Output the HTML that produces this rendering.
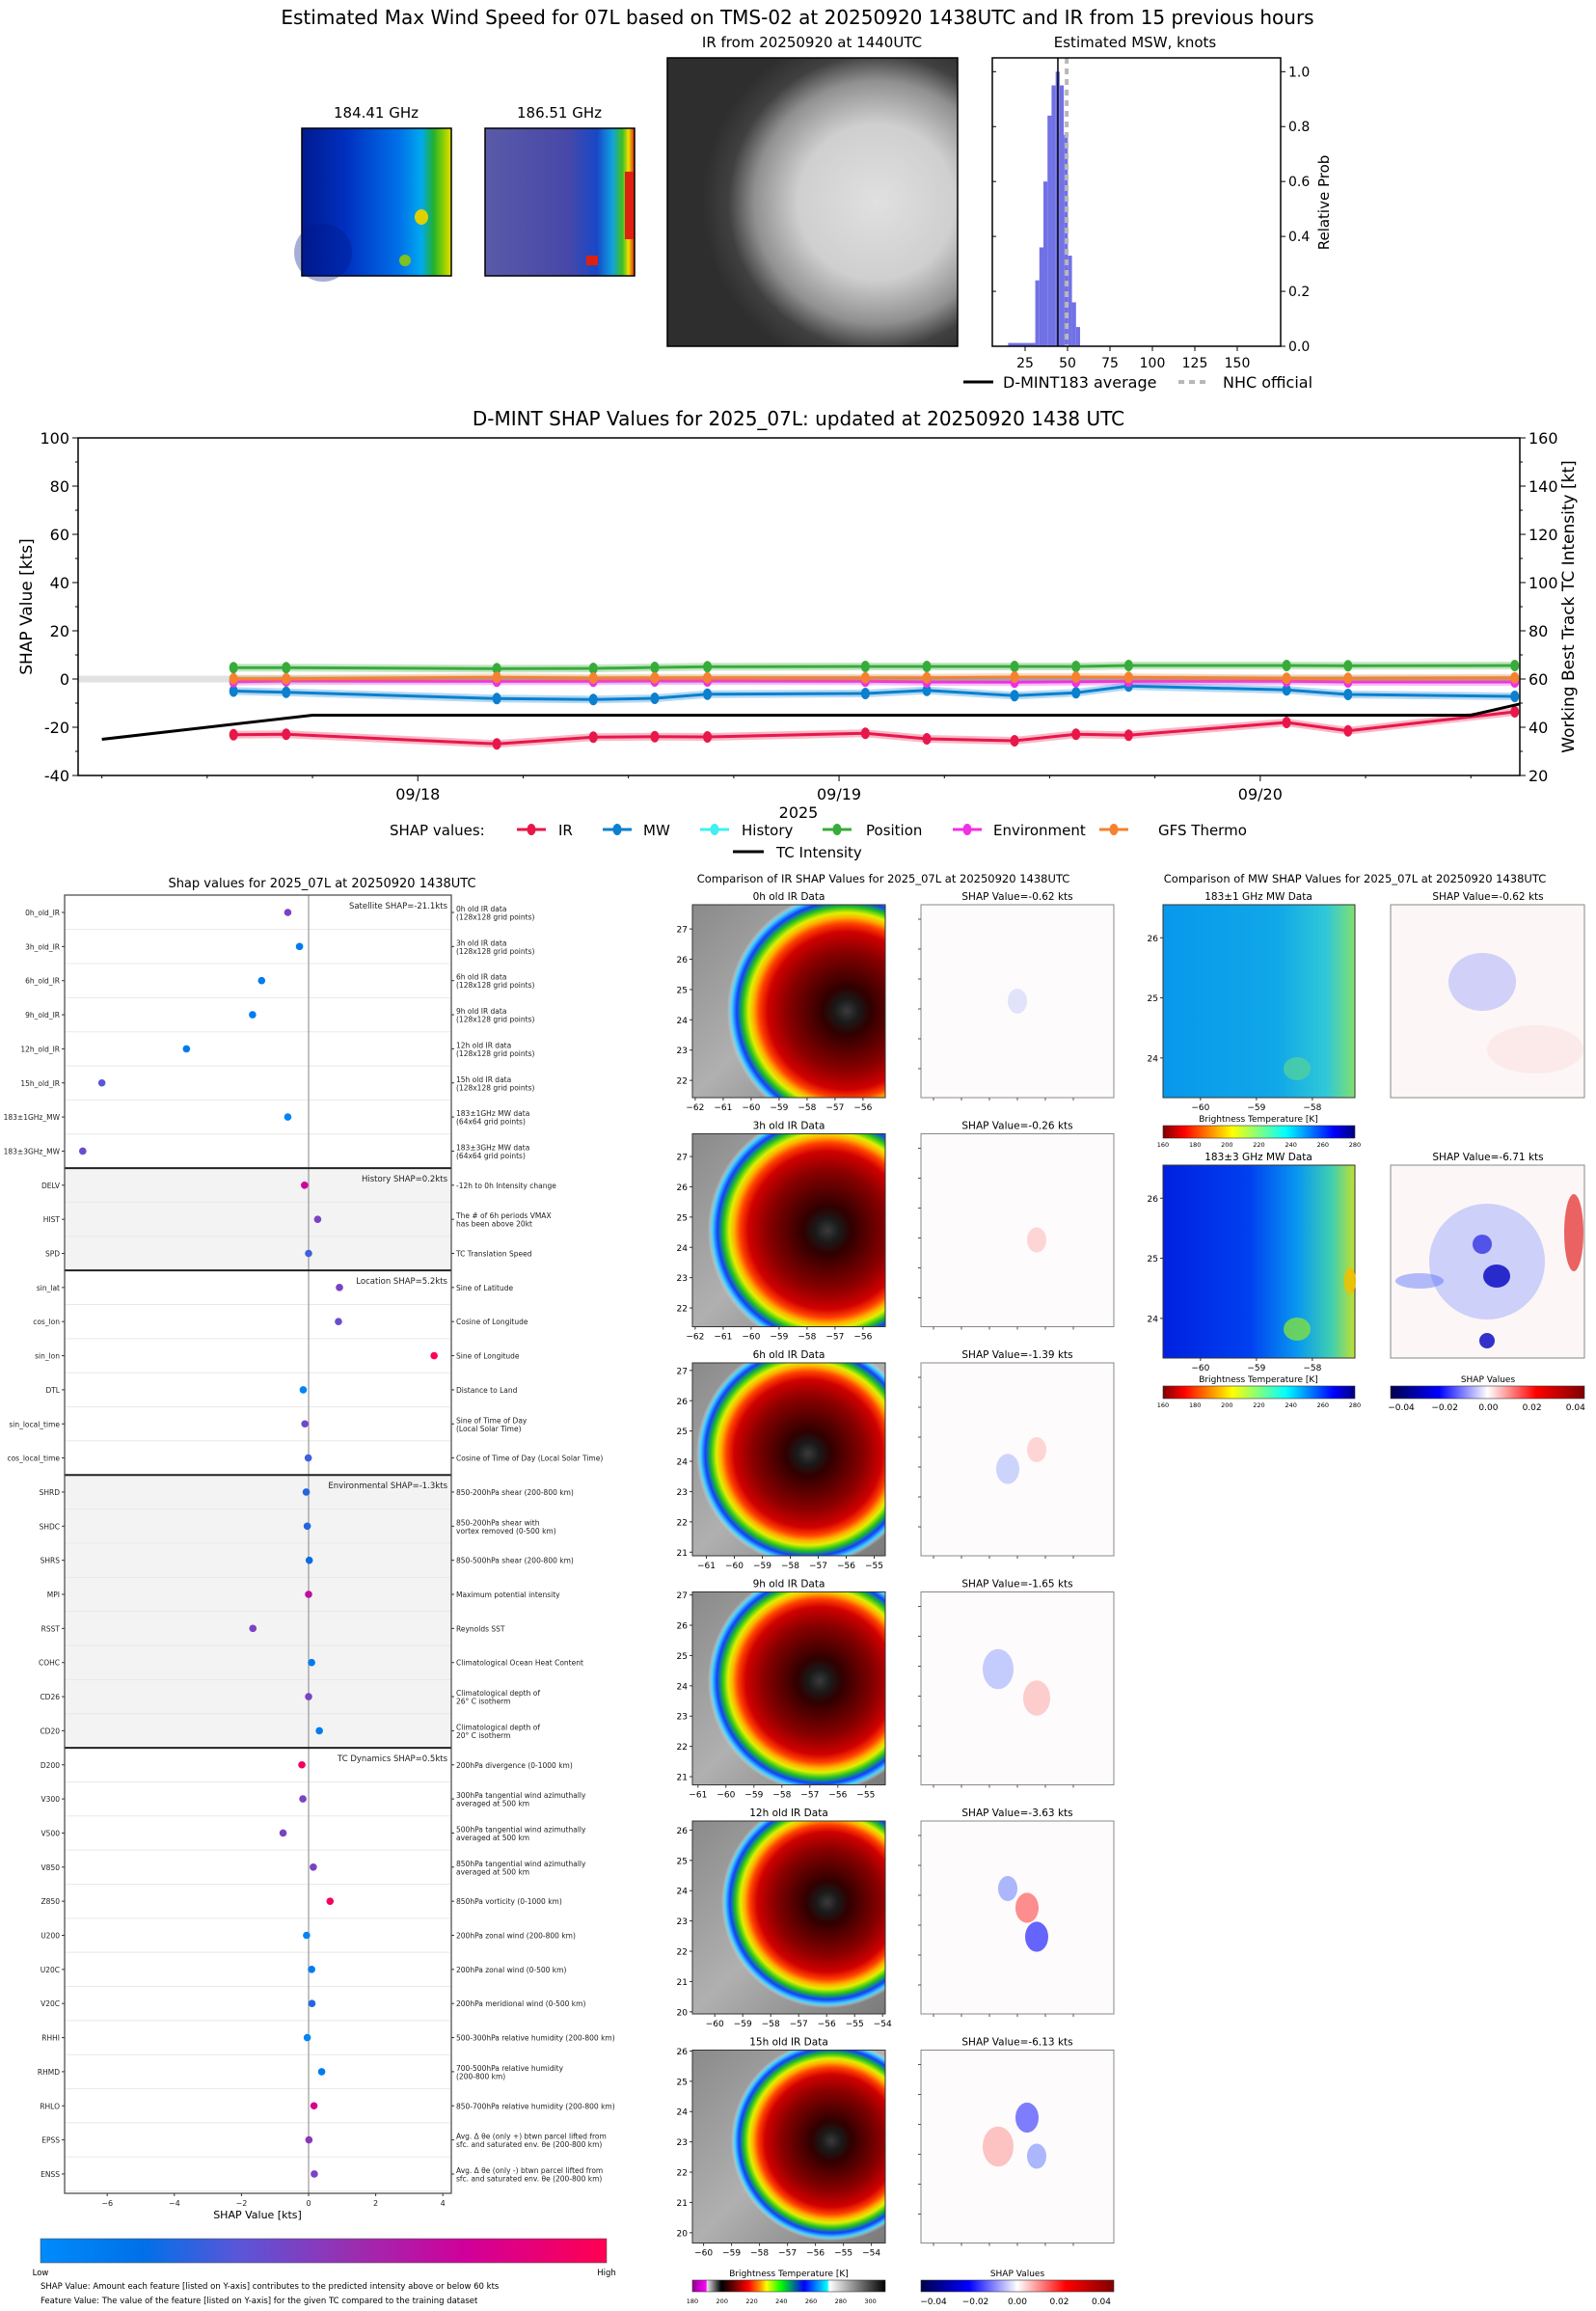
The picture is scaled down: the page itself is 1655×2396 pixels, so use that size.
<!DOCTYPE html>
<html><head><meta charset="utf-8"><title>D-MINT Estimated Max Wind Speed 07L</title>
<style>
html,body{margin:0;padding:0;background:#fff;}
svg{display:block;font-family:"DejaVu Sans","Liberation Sans",sans-serif;}
</style></head>
<body>
<svg id="root" xmlns="http://www.w3.org/2000/svg" width="1655" height="2396" viewBox="0 0 1655 2396">
<defs>
  <linearGradient id="mw184" x1="0" y1="0" x2="1" y2="0">
    <stop offset="0" stop-color="#001a90"/><stop offset="0.3" stop-color="#0030c0"/><stop offset="0.65" stop-color="#0070e8"/>
    <stop offset="0.8" stop-color="#00a8f0"/><stop offset="0.88" stop-color="#20b030"/><stop offset="0.95" stop-color="#90d000"/><stop offset="1" stop-color="#e8e000"/>
  </linearGradient>
  <linearGradient id="mw186" x1="0" y1="0" x2="1" y2="0">
    <stop offset="0" stop-color="#5a5aa8"/><stop offset="0.55" stop-color="#4848a8"/><stop offset="0.75" stop-color="#1848c8"/>
    <stop offset="0.85" stop-color="#10a0e0"/><stop offset="0.92" stop-color="#40c020"/><stop offset="0.96" stop-color="#f0e000"/><stop offset="1" stop-color="#e02010"/>
  </linearGradient>
  <radialGradient id="irTop" cx="0.72" cy="0.5" r="0.6">
    <stop offset="0" stop-color="#e0e0e0"/><stop offset="0.45" stop-color="#cfcfcf"/><stop offset="0.7" stop-color="#909090"/><stop offset="0.85" stop-color="#404040"/><stop offset="1" stop-color="#2e2e2e"/>
  </radialGradient>
  <linearGradient id="mw1" x1="0" y1="0" x2="1" y2="0">
    <stop offset="0" stop-color="#0898ec"/><stop offset="0.6" stop-color="#10a8e8"/><stop offset="0.85" stop-color="#30c8d8"/><stop offset="1" stop-color="#80e070"/>
  </linearGradient>
  <linearGradient id="mw3" x1="0" y1="0" x2="1" y2="0">
    <stop offset="0" stop-color="#0020e0"/><stop offset="0.45" stop-color="#0040f0"/><stop offset="0.7" stop-color="#0898f0"/><stop offset="0.88" stop-color="#40d0b0"/><stop offset="1" stop-color="#c0e030"/>
  </linearGradient>
  <linearGradient id="jetR" x1="0" y1="0" x2="1" y2="0">
    <stop offset="0" stop-color="#800000"/><stop offset="0.11" stop-color="#ff0000"/><stop offset="0.36" stop-color="#ffff00"/>
    <stop offset="0.5" stop-color="#80ff80"/><stop offset="0.64" stop-color="#00ffff"/><stop offset="0.89" stop-color="#0000ff"/><stop offset="1" stop-color="#000080"/>
  </linearGradient>
  <linearGradient id="seis" x1="0" y1="0" x2="1" y2="0">
    <stop offset="0" stop-color="#00004c"/><stop offset="0.25" stop-color="#0000ff"/><stop offset="0.5" stop-color="#ffffff"/>
    <stop offset="0.75" stop-color="#ff0000"/><stop offset="1" stop-color="#800000"/>
  </linearGradient>
  <linearGradient id="irCmap" x1="0" y1="0" x2="1" y2="0">
    <stop offset="0" stop-color="#900090"/><stop offset="0.07" stop-color="#ff00ff"/><stop offset="0.077" stop-color="#e0e0e0"/>
    <stop offset="0.15" stop-color="#000000"/><stop offset="0.2" stop-color="#500000"/><stop offset="0.29" stop-color="#ff0000"/>
    <stop offset="0.35" stop-color="#ff9000"/><stop offset="0.385" stop-color="#ffff00"/><stop offset="0.46" stop-color="#00ff00"/>
    <stop offset="0.58" stop-color="#0000ff"/><stop offset="0.7" stop-color="#00ffff"/><stop offset="0.71" stop-color="#ffffff"/><stop offset="1" stop-color="#000000"/>
  </linearGradient>
  <linearGradient id="shapCmap" x1="0" y1="0" x2="1" y2="0">
    <stop offset="0" stop-color="#008bfb"/><stop offset="0.18" stop-color="#0070e8"/><stop offset="0.35" stop-color="#5a56d8"/>
    <stop offset="0.55" stop-color="#9a2eb0"/><stop offset="0.75" stop-color="#d0009a"/><stop offset="1" stop-color="#ff0052"/>
  </linearGradient>
  <linearGradient id="irBg" x1="0" y1="0" x2="1" y2="1">
    <stop offset="0" stop-color="#8a8a8a"/><stop offset="0.5" stop-color="#b0b0b0"/><stop offset="1" stop-color="#7a7a7a"/>
  </linearGradient>
</defs>

<text x="827" y="25" font-size="20" text-anchor="middle">Estimated Max Wind Speed for 07L based on TMS-02 at 20250920 1438UTC and IR from 15 previous hours</text>

<g>
  <text x="390" y="122" font-size="15" text-anchor="middle">184.41 GHz</text>
  <rect x="313" y="133" width="155" height="153" fill="url(#mw184)" stroke="#000" stroke-width="1.5"/>
  <ellipse cx="335" cy="262" rx="30" ry="30" fill="#00188a" opacity="0.35"/>
  <ellipse cx="437" cy="225" rx="7" ry="8" fill="#e0d000"/>
  <ellipse cx="420" cy="270" rx="6" ry="6" fill="#80c020"/>
</g>
<g>
  <text x="580" y="122" font-size="15" text-anchor="middle">186.51 GHz</text>
  <rect x="503" y="133" width="155" height="153" fill="url(#mw186)" stroke="#000" stroke-width="1.5"/>
  <rect x="648" y="178" width="9" height="70" fill="#e02010"/>
  <rect x="608" y="265" width="12" height="10" fill="#e02010"/>
</g>
<g>
  <text x="842" y="49" font-size="15" text-anchor="middle">IR from 20250920 at 1440UTC</text>
  <rect x="692" y="60" width="301" height="299" fill="url(#irTop)" stroke="#000" stroke-width="1.5"/>
</g>

<g id="hist"></g>
<g id="ts"></g>
<g id="dots"></g>
<g id="mid"></g>
<g id="mw"></g>
</svg>

<script>
// ===== Histogram data =====
const histBins=[15,31.0,33.4,35.8,38.2,40.6,43.0,45.4,47.8,50.2,52.6,55.0];
const histProbs=[0.012,0.24,0.36,0.60,0.84,0.95,1.0,0.95,0.77,0.33,0.16,0.07];
const histBinEnd=57.4;
const dmintAvg=44.3;
const nhcOfficial=49.5;
const histXTicks=[25,50,75,100,125,150];
const histYTicks=[0,0.2,0.4,0.6,0.8,1.0];

// ===== Time series data =====
const tsHours=[13.5,16.5,28.5,34,37.5,40.5,49.5,53,58,61.5,64.5,73.5,77,86.5];
const irVals=[-23.1,-22.9,-26.9,-24.1,-23.9,-24.0,-22.5,-24.8,-25.6,-22.9,-23.3,-18.0,-21.5,-13.6];
const mwVals=[-5.0,-5.5,-8.1,-8.5,-8.0,-6.3,-6.0,-4.7,-6.9,-5.7,-2.9,-4.5,-6.4,-7.2];
const historyVals=[-0.4,-0.3,-0.2,-0.3,-0.3,-0.2,-0.2,-0.3,-0.3,-0.2,-0.2,-0.3,-0.3,-0.3];
const positionVals=[4.7,4.7,4.3,4.4,4.8,5.1,5.2,5.2,5.2,5.2,5.6,5.6,5.5,5.6];
const environmentVals=[-1.1,-0.8,-0.9,-0.9,-0.8,-0.8,-0.9,-1.2,-1.3,-1.1,-0.9,-0.9,-1.2,-1.2];
const gfsVals=[0.1,0.1,0.7,0.4,0.5,0.5,0.5,0.5,0.8,0.8,0.7,0.3,0.3,0.5];
const tcHours=[6,12,18,24,30,36,42,48,54,60,66,72,78,84,90];
const tcVals=[35,40,45,45,45,45,45,45,45,45,45,45,45,45,55];
const tsLeftTicks=[-40,-20,0,20,40,60,80,100];
const tsRightTicks=[20,40,60,80,100,120,140,160];
const tsDateLabels=['09/18','09/19','09/20'];
const tsDateHours=[24,48,72];

// ===== Dot plot data =====
const featNames=['0h_old_IR','3h_old_IR','6h_old_IR','9h_old_IR','12h_old_IR','15h_old_IR','183±1GHz_MW','183±3GHz_MW','DELV','HIST','SPD','sin_lat','cos_lon','sin_lon','DTL','sin_local_time','cos_local_time','SHRD','SHDC','SHRS','MPI','RSST','COHC','CD26','CD20','D200','V300','V500','V850','Z850','U200','U20C','V20C','RHHI','RHMD','RHLO','EPSS','ENSS'];
const featShap=[-0.62,-0.27,-1.40,-1.67,-3.64,-6.16,-0.62,-6.73,-0.12,0.27,0.0,0.92,0.89,3.74,-0.16,-0.11,-0.01,-0.07,-0.04,0.02,0.0,-1.66,0.09,0.0,0.32,-0.20,-0.17,-0.76,0.14,0.64,-0.06,0.09,0.10,-0.04,0.39,0.16,0.01,0.17];
const featLevel=[0.45,0.1,0.1,0.1,0.1,0.35,0.05,0.4,0.75,0.45,0.3,0.45,0.4,1.0,0.05,0.42,0.3,0.25,0.25,0.2,0.7,0.45,0.1,0.45,0.1,0.95,0.45,0.45,0.45,0.95,0.05,0.1,0.25,0.05,0.1,0.78,0.5,0.45];
const featDesc=[['0h old IR data','(128x128 grid points)'],['3h old IR data','(128x128 grid points)'],['6h old IR data','(128x128 grid points)'],['9h old IR data','(128x128 grid points)'],['12h old IR data','(128x128 grid points)'],['15h old IR data','(128x128 grid points)'],['183±1GHz MW data','(64x64 grid points)'],['183±3GHz MW data','(64x64 grid points)'],['-12h to 0h Intensity change'],['The # of 6h periods VMAX','has been above 20kt'],['TC Translation Speed'],['Sine of Latitude'],['Cosine of Longitude'],['Sine of Longitude'],['Distance to Land'],['Sine of Time of Day','(Local Solar Time)'],['Cosine of Time of Day (Local Solar Time)'],['850-200hPa shear (200-800 km)'],['850-200hPa shear with','vortex removed (0-500 km)'],['850-500hPa shear (200-800 km)'],['Maximum potential intensity'],['Reynolds SST'],['Climatological Ocean Heat Content'],['Climatological depth of','26° C isotherm'],['Climatological depth of','20° C isotherm'],['200hPa divergence (0-1000 km)'],['300hPa tangential wind azimuthally','averaged at 500 km'],['500hPa tangential wind azimuthally','averaged at 500 km'],['850hPa tangential wind azimuthally','averaged at 500 km'],['850hPa vorticity (0-1000 km)'],['200hPa zonal wind (200-800 km)'],['200hPa zonal wind (0-500 km)'],['200hPa meridional wind (0-500 km)'],['500-300hPa relative humidity (200-800 km)'],['700-500hPa relative humidity','(200-800 km)'],['850-700hPa relative humidity (200-800 km)'],['Avg. Δ θe (only +) btwn parcel lifted from','sfc. and saturated env. θe (200-800 km)'],['Avg. Δ θe (only -) btwn parcel lifted from','sfc. and saturated env. θe (200-800 km)']];
const groupNames=['Satellite SHAP=-21.1kts','History SHAP=0.2kts','Location SHAP=5.2kts','Environmental SHAP=-1.3kts','TC Dynamics SHAP=0.5kts'];
const groupStart=[0,8,11,17,25];
const groupEnd=[7,10,16,24,37];
const dotXTicks=[-6,-4,-2,0,2,4];

// ===== Image panel labels =====
const irRowTitles=['0h old IR Data','3h old IR Data','6h old IR Data','9h old IR Data','12h old IR Data','15h old IR Data'];
const irRowShap=['-0.62','-0.26','-1.39','-1.65','-3.63','-6.13'];

const NS='http://www.w3.org/2000/svg';
function mk(tag,attrs,parent,txt){const e=document.createElementNS(NS,tag);for(const k in attrs)e.setAttribute(k,attrs[k]);if(txt!==undefined)e.textContent=txt;parent.appendChild(e);return e;}
function lerpColor(t){
  const st=[[0,[0,139,251]],[0.18,[0,112,232]],[0.35,[90,86,216]],[0.55,[154,46,176]],[0.75,[208,0,154]],[1,[255,0,82]]];
  for(let i=1;i<st.length;i++){if(t<=st[i][0]){const a=st[i-1],b=st[i];const f=(t-a[0])/(b[0]-a[0]);const c=a[1].map((v,j)=>Math.round(v+(b[1][j]-v)*f));return 'rgb('+c.join(',')+')';}}
  return 'rgb(255,0,82)';
}

// ================= HISTOGRAM =================
(function(){
  const g=document.getElementById('hist');
  const X0=1029,X1=1328,Y0=60,Y1=359;
  const xh=v=>1019+v*1.76, yh=p=>359-p*284.7;
  const t=mk('text',{x:1177,y:49,'font-size':15,'text-anchor':'middle'},g,'Estimated MSW, knots');
  
  
  for(let i=0;i<histBins.length;i++){
    const l=histBins[i], r=(i+1<histBins.length)?histBins[i+1]:histBinEnd;
    const b=mk('rect',{x:xh(l),y:yh(histProbs[i]),width:xh(r)-xh(l),height:yh(0)-yh(histProbs[i]),fill:'#7171e6'},g);
    
    
  }
  const m=mk('line',{x1:xh(dmintAvg),x2:xh(dmintAvg),y1:Y0,y2:Y1,stroke:'#000','stroke-width':1.5},g);
  
  
  const n=mk('line',{x1:xh(nhcOfficial),x2:xh(nhcOfficial),y1:Y0,y2:Y1,stroke:'#b8b8b8','stroke-width':4,'stroke-dasharray':'6,5'},g);
  
  
  const fr=mk('rect',{x:X0,y:Y0,width:X1-X0,height:Y1-Y0,fill:'none',stroke:'#000','stroke-width':1.5},g);
  
  
  histXTicks.forEach(v=>{
    mk('line',{x1:xh(v),x2:xh(v),y1:Y1,y2:Y1+5,stroke:'#000'},g);
    const tl=mk('text',{x:xh(v),y:Y1+22,'font-size':14,'text-anchor':'middle'},g,String(v));
    
    
  });
  histYTicks.forEach(v=>{
    mk('line',{x1:X1,x2:X1+5,y1:yh(v),y2:yh(v),stroke:'#000'},g);
    mk('line',{x1:X0,x2:X0+4,y1:yh(v),y2:yh(v),stroke:'#000'},g);
    const tl=mk('text',{x:X1+8,y:yh(v)+5,'font-size':14},g,v.toFixed(1));
    
    
  });
  const yl=mk('text',{x:0,y:0,'font-size':15,'text-anchor':'middle',transform:'translate(1378,210) rotate(-90)'},g,'Relative Prob');
  
  
  mk('line',{x1:999,x2:1030,y1:396,y2:396,stroke:'#000','stroke-width':3},g);
  const l1=mk('text',{x:1040,y:402,'font-size':16},g,'D-MINT183 average');
  
  
  mk('line',{x1:1222,x2:1253,y1:396,y2:396,stroke:'#b8b8b8','stroke-width':4,'stroke-dasharray':'6,5'},g);
  const l2=mk('text',{x:1268,y:402,'font-size':16},g,'NHC official');
  
  
})();

// ================= TIME SERIES =================
(function(){
  const g=document.getElementById('ts');
  const X0=81,X1=1576,Y0=454,Y1=804;
  const xT=h=>82+(h-4.7)*18.2, yL=v=>454+(100-v)*2.5, yR=k=>yL(k-60);
  const tt=mk('text',{x:828,y:441,'font-size':20,'text-anchor':'middle'},g,'D-MINT SHAP Values for 2025_07L: updated at 20250920 1438 UTC');
  
  
  const band=mk('rect',{x:X0,y:yL(1.4),width:X1-X0,height:yL(-1.4)-yL(1.4),fill:'#e2e2e2'},g);
  
  
  const cp=mk('clipPath',{id:'tsclip'},g); mk('rect',{x:X0,y:Y0,width:X1-X0,height:Y1-Y0},cp);
  const series=[['IR',irVals,'#e8174a'],['MW',mwVals,'#0a80cf'],['History',historyVals,'#40f0f0'],['Position',positionVals,'#38ac3a'],['Environment',environmentVals,'#f030e6'],['GFS Thermo',gfsVals,'#f58230']];
  series.forEach(s=>{
    const pts=tsHours.map((h,i)=>xT(h)+','+yL(s[1][i])).join(' ');
    mk('polyline',{points:pts,fill:'none',stroke:s[2],'stroke-width':8,'stroke-opacity':0.3},g);
    const pl=mk('polyline',{points:pts,fill:'none',stroke:s[2],'stroke-width':3},g);
    
    
    tsHours.forEach((h,i)=>{
      const c=mk('ellipse',{cx:xT(h),cy:yL(s[1][i]),rx:4.5,ry:6,fill:s[2]},g);
      
      
    });
  });
  const tcg=mk('g',{'clip-path':'url(#tsclip)'},g);
  const tcl=mk('polyline',{points:tcHours.map((h,i)=>xT(h)+','+yR(tcVals[i])).join(' '),fill:'none',stroke:'#000','stroke-width':3},tcg);
  
  
  const fr=mk('rect',{x:X0,y:Y0,width:X1-X0,height:Y1-Y0,fill:'none',stroke:'#000','stroke-width':1.5},g);
  
  
  for(let v=-40;v<=100;v+=10){mk('line',{x1:X0-(v%20===0?6:3),x2:X0,y1:yL(v),y2:yL(v),stroke:'#000'},g);}
  tsLeftTicks.forEach(v=>{
    const tl=mk('text',{x:X0-9,y:yL(v)+6,'font-size':16,'text-anchor':'end'},g,String(v));
    
    
  });
  for(let k=20;k<=160;k+=10){mk('line',{x1:X1,x2:X1+(k%20===0?6:3),y1:yR(k),y2:yR(k),stroke:'#000'},g);}
  tsRightTicks.forEach(k=>{
    const tl=mk('text',{x:X1+9,y:yR(k)+6,'font-size':16},g,String(k));
    
    
  });
  for(let h=6;h<=84;h+=6){mk('line',{x1:xT(h),x2:xT(h),y1:Y1,y2:Y1+(h%24===0?6:3),stroke:'#000'},g);}
  tsDateLabels.forEach((d,i)=>{
    const tl=mk('text',{x:xT(tsDateHours[i]),y:Y1+25,'font-size':16,'text-anchor':'middle'},g,d);
    
    
  });
  const yr=mk('text',{x:828,y:Y1+44,'font-size':16,'text-anchor':'middle'},g,'2025');
  
  
  const yl=mk('text',{x:0,y:0,'font-size':17,'text-anchor':'middle',transform:'translate(33,629) rotate(-90)'},g,'SHAP Value [kts]');
  
  
  const yr2=mk('text',{x:0,y:0,'font-size':17,'text-anchor':'middle',transform:'translate(1632,629) rotate(-90)'},g,'Working Best Track TC Intensity [kt]');
  
  
  // legend
  const lg=mk('g',{},g);
  
  
  mk('text',{x:404,y:866,'font-size':15},lg,'SHAP values:');
  const mc=[551,640,741,868,1003,1155];
  const tx=[579,667,769,898,1030,1201];
  series.forEach((s,i)=>{
    mk('line',{x1:mc[i]-15,x2:mc[i]+15,y1:860,y2:860,stroke:s[2],'stroke-width':3},lg);
    mk('ellipse',{cx:mc[i],cy:860,rx:4.5,ry:6,fill:s[2]},lg);
    const e=mk('text',{x:tx[i],y:866,'font-size':15},lg,s[0]);
    
    
  });
  mk('line',{x1:760,x2:792,y1:883,y2:883,stroke:'#000','stroke-width':3},lg);
  const te=mk('text',{x:805,y:889,'font-size':15},lg,'TC Intensity');
  
  
})();

// ================= DOT PLOT =================
(function(){
  const g=document.getElementById('dots');
  const X0=67,X1=468,Y0=928,Y1=2274,RH=35.35;
  const rowY=i=>946+i*RH, xd=v=>320+v*34.8;
  const tt=mk('text',{x:334,y:920,'font-size':13,'text-anchor':'middle'},g,'Shap values for 2025_07L at 20250920 1438UTC');
  
  
  [1,3].forEach(k=>{
    const sh=mk('rect',{x:X0,y:rowY(groupStart[k])-RH/2,width:X1-X0,height:(groupEnd[k]-groupStart[k]+1)*RH,fill:'#f3f3f3'},g);
    
    
  });
  featNames.forEach((f,i)=>{
    mk('line',{x1:X0,x2:X1,y1:rowY(i)+RH/2,y2:rowY(i)+RH/2,stroke:'#e8e8e8','stroke-width':1},g);
  });
  const z=mk('line',{x1:xd(0),x2:xd(0),y1:Y0,y2:Y1,stroke:'#999','stroke-width':1.2},g);
  
  
  groupStart.forEach((s,k)=>{
    if(k>0){
      const sep=mk('line',{x1:X0,x2:X1,y1:rowY(s)-RH/2,y2:rowY(s)-RH/2,stroke:'#222','stroke-width':2},g);
      
      
    }
    const a=mk('text',{x:X1-4,y:rowY(s)-4,'font-size':8.5,'text-anchor':'end',fill:'#222'},g,groupNames[k]);
    
    
  });
  featNames.forEach((f,i)=>{
    const y=rowY(i);
    mk('line',{x1:X0-3,x2:X0,y1:y,y2:y,stroke:'#333'},g);
    const tl=mk('text',{x:X0-5,y:y+3,'font-size':7.5,'text-anchor':'end',fill:'#222'},g,f);
    
    
    mk('line',{x1:X1,x2:X1+3,y1:y,y2:y,stroke:'#333'},g);
    const d=featDesc[i];
    if(d.length===1){
      const dt=mk('text',{x:X1+5,y:y+3,'font-size':7.5,fill:'#222'},g,d[0]);
      
      
    }else{
      const dt=mk('text',{x:X1+5,y:y-1,'font-size':7.5,fill:'#222'},g,d[0]);
      
      
      const dt2=mk('text',{x:X1+5,y:y+7.5,'font-size':7.5,fill:'#222'},g,d[1]);
      
      
    }
    const c=mk('circle',{cx:xd(featShap[i]),cy:y,r:3.8,fill:lerpColor(featLevel[i])},g);
    
    
  });
  const fr=mk('rect',{x:X0,y:Y0,width:X1-X0,height:Y1-Y0,fill:'none',stroke:'#444','stroke-width':1.2},g);
  
  
  dotXTicks.forEach(v=>{
    mk('line',{x1:xd(v),x2:xd(v),y1:Y1,y2:Y1+3,stroke:'#333'},g);
    const tl=mk('text',{x:xd(v),y:Y1+13,'font-size':8,'text-anchor':'middle',fill:'#222'},g,(v<0?'\u2212':'')+Math.abs(v));
    
    
  });
  const xl=mk('text',{x:267,y:Y1+26,'font-size':11,'text-anchor':'middle'},g,'SHAP Value [kts]');
  
  
  const cb=mk('rect',{x:42,y:2321,width:587,height:25,fill:'url(#shapCmap)',stroke:'#555','stroke-width':0.6},g);
  
  
  mk('text',{x:42,y:2359,'font-size':8.5,'text-anchor':'middle'},g,'Low');
  mk('text',{x:629,y:2359,'font-size':8.5,'text-anchor':'middle'},g,'High');
  const f1=mk('text',{x:42,y:2373,'font-size':8.5},g,'SHAP Value: Amount each feature [listed on Y-axis] contributes to the predicted intensity above or below 60 kts');
  
  
  const f2=mk('text',{x:42,y:2388,'font-size':8.5},g,'Feature Value: The value of the feature [listed on Y-axis] for the given TC compared to the training dataset');
  
  
})();

// ================= IR SHAP COMPARISON =================
(function(){
  const g=document.getElementById('mid');
  const defs=document.querySelector('defs');
  const tt=mk('text',{x:916,y:915,'font-size':11.5,'text-anchor':'middle'},g,'Comparison of IR SHAP Values for 2025_07L at 20250920 1438UTC');
  
  
  const centers=[[0.8,0.55,0.62],[0.7,0.5,0.62],[0.6,0.47,0.58],[0.66,0.46,0.58],[0.7,0.42,0.55],[0.72,0.47,0.52]];
  const topLat=[27.8,27.75,27.25,27.1,26.3,26.03];
  const leftLon=[-62.1,-62.1,-61.5,-61.2,-60.8,-60.4];
  const blobs=[[[0.5,0.5,0.05,'#4060ff',0.15]],[[0.6,0.55,0.05,'#ff4040',0.2]],[[0.45,0.55,0.06,'#4060ff',0.25],[0.6,0.45,0.05,'#ff4040',0.2]],[[0.4,0.4,0.08,'#4060ff',0.3],[0.6,0.55,0.07,'#ff4040',0.25]],[[0.55,0.45,0.06,'#ff2020',0.5],[0.6,0.6,0.06,'#0000ff',0.6],[0.45,0.35,0.05,'#3050ff',0.4]],[[0.55,0.35,0.06,'#0000ff',0.5],[0.4,0.5,0.08,'#ff4040',0.3],[0.6,0.55,0.05,'#3050ff',0.4]]];
  for(let r=0;r<6;r++){
    const top=938+r*237.5;
    const rg=mk('radialGradient',{id:'hur'+r,cx:centers[r][0],cy:centers[r][1],r:centers[r][2]},defs);
    [[0,'#3a3a3a'],[0.1,'#1a1a1a'],[0.2,'#300000'],[0.5,'#8a0000'],[0.66,'#d00000'],[0.73,'#ff4000'],[0.78,'#ffb000'],[0.82,'#e0f000'],[0.87,'#20c020'],[0.92,'#1040ff'],[0.96,'#40d0ff'],[1,'rgba(230,230,230,0)']].forEach(s=>mk('stop',{offset:s[0],'stop-color':s[1]},rg));
    const ig=mk('g',{},g);
    
    
    mk('text',{x:818,y:top-5,'font-size':10.5,'text-anchor':'middle'},ig,irRowTitles[r]);
    const sv=mk('svg',{x:718,y:top,width:200,height:200},ig);
    mk('rect',{x:0,y:0,width:200,height:200,fill:'url(#irBg)'},sv);
    mk('rect',{x:0,y:0,width:200,height:200,fill:'url(#hur'+r+')'},sv);
    mk('rect',{x:718,y:top,width:200,height:200,fill:'none',stroke:'#333','stroke-width':1},ig);
    for(let lat=Math.floor(topLat[r]);lat>topLat[r]-200/31.4;lat--){
      const y=top+(topLat[r]-lat)*31.4;
      mk('line',{x1:715,x2:718,y1:y,y2:y,stroke:'#333'},ig);
      mk('text',{x:713,y:y+3.5,'font-size':9,'text-anchor':'end'},ig,String(lat));
    }
    for(let lon=Math.ceil(leftLon[r]);lon<leftLon[r]+200/29;lon++){
      const x=718+(lon-leftLon[r])*29;
      mk('line',{x1:x,x2:x,y1:top+200,y2:top+203,stroke:'#333'},ig);
      mk('text',{x:x,y:top+213,'font-size':9,'text-anchor':'middle'},ig,'\u2212'+Math.abs(lon));
    }
    const sg=mk('g',{},g);
    
    
    mk('text',{x:1055,y:top-5,'font-size':10.5,'text-anchor':'middle'},sg,'SHAP Value='+irRowShap[r]+' kts');
    const s2=mk('svg',{x:955,y:top,width:200,height:200},sg);
    mk('rect',{x:0,y:0,width:200,height:200,fill:'#fdfbfb'},s2);
    blobs[r].forEach(b=>mk('ellipse',{cx:b[0]*200,cy:b[1]*200,rx:b[2]*200,ry:b[2]*260,fill:b[3],opacity:b[4]},s2));
    mk('rect',{x:955,y:top,width:200,height:200,fill:'none',stroke:'#888','stroke-width':1},sg);
    for(let k=0;k<6;k++){mk('line',{x1:952,x2:955,y1:top+15+k*31,y2:top+15+k*31,stroke:'#555'},sg);mk('line',{x1:968+k*29,x2:968+k*29,y1:top+200,y2:top+203,stroke:'#555'},sg);}
  }
  const cb=mk('g',{},g);
  
  
  mk('text',{x:818,y:2360,'font-size':9,'text-anchor':'middle'},cb,'Brightness Temperature [K]');
  mk('rect',{x:718,y:2364,width:200,height:12,fill:'url(#irCmap)',stroke:'#333','stroke-width':0.6},cb);
  [180,200,220,240,260,280,300].forEach(v=>mk('text',{x:718+(v-180)/130*200,y:2388,'font-size':6.5,'text-anchor':'middle'},cb,String(v)));
  const sb=mk('g',{},g);
  
  
  mk('text',{x:1055,y:2360,'font-size':9,'text-anchor':'middle'},sb,'SHAP Values');
  mk('rect',{x:955,y:2364,width:200,height:12,fill:'url(#seis)',stroke:'#333','stroke-width':0.6},sb);
  ['\u22120.04','\u22120.02','0.00','0.02','0.04'].forEach((v,i)=>mk('text',{x:968+i*43.5,y:2389,'font-size':9,'text-anchor':'middle'},sb,v));
})();

// ================= MW SHAP COMPARISON =================
(function(){
  const g=document.getElementById('mw');
  const tt=mk('text',{x:1405,y:915,'font-size':11.5,'text-anchor':'middle'},g,'Comparison of MW SHAP Values for 2025_07L at 20250920 1438UTC');
  
  
  const tops=[938,1208], titles=['183±1 GHz MW Data','183±3 GHz MW Data'], vals=['-0.62','-6.71'], fills=['url(#mw1)','url(#mw3)'];
  for(let r=0;r<2;r++){
    const top=tops[r];
    const ig=mk('g',{},g);
    
    
    mk('text',{x:1305,y:top-5,'font-size':10.5,'text-anchor':'middle'},ig,titles[r]);
    mk('rect',{x:1206,y:top,width:199,height:200,fill:fills[r],stroke:'#333','stroke-width':1},ig);
    mk('ellipse',{cx:1345,cy:top+170,rx:14,ry:12,fill:r?'#80e040':'#50d0a0',opacity:0.8},ig);
    if(r===1) mk('ellipse',{cx:1400,cy:top+120,rx:6,ry:14,fill:'#f0c000',opacity:0.9},ig);
    [26,25,24].forEach(lat=>{const y=top+(26.55-lat)*62.3;mk('line',{x1:1203,x2:1206,y1:y,y2:y,stroke:'#333'},ig);mk('text',{x:1201,y:y+3.5,'font-size':9,'text-anchor':'end'},ig,String(lat));});
    [-60,-59,-58].forEach(lon=>{const x=1206+(lon+60.67)*58;mk('line',{x1:x,x2:x,y1:top+200,y2:top+203,stroke:'#333'},ig);mk('text',{x:x,y:top+213,'font-size':9,'text-anchor':'middle'},ig,'\u2212'+Math.abs(lon));});
    const cy=top+229;
    mk('text',{x:1305,y:cy-4,'font-size':9,'text-anchor':'middle'},ig,'Brightness Temperature [K]');
    mk('rect',{x:1206,y:cy,width:199,height:13,fill:'url(#jetR)',stroke:'#333','stroke-width':0.6},ig);
    [160,180,200,220,240,260,280].forEach(v=>mk('text',{x:1206+(v-160)/120*199,y:cy+22,'font-size':6.5,'text-anchor':'middle'},ig,String(v)));
    const sg=mk('g',{},g);
    
    
    mk('text',{x:1543,y:top-5,'font-size':10.5,'text-anchor':'middle'},sg,'SHAP Value='+vals[r]+' kts');
    const s2=mk('svg',{x:1442,y:top,width:201,height:200},sg);
    mk('rect',{x:0,y:0,width:201,height:200,fill:'#fcf6f6'},s2);
    if(r===0){
      mk('ellipse',{cx:95,cy:80,rx:35,ry:30,fill:'#5060ff',opacity:0.25},s2);
      mk('ellipse',{cx:150,cy:150,rx:50,ry:25,fill:'#ff6060',opacity:0.08},s2);
    }else{
      mk('ellipse',{cx:100,cy:100,rx:60,ry:60,fill:'#4060ff',opacity:0.25},s2);
      mk('ellipse',{cx:110,cy:115,rx:14,ry:12,fill:'#0000c0',opacity:0.8},s2);
      mk('ellipse',{cx:95,cy:82,rx:10,ry:10,fill:'#0000e0',opacity:0.6},s2);
      mk('ellipse',{cx:100,cy:182,rx:8,ry:8,fill:'#0000c0',opacity:0.8},s2);
      mk('ellipse',{cx:190,cy:70,rx:10,ry:40,fill:'#e00000',opacity:0.6},s2);
      mk('ellipse',{cx:30,cy:120,rx:25,ry:8,fill:'#4060ff',opacity:0.4},s2);
    }
    mk('rect',{x:1442,y:top,width:201,height:200,fill:'none',stroke:'#888','stroke-width':1},sg);
  }
  const sb=mk('g',{},g);
  
  
  mk('text',{x:1543,y:1433,'font-size':9,'text-anchor':'middle'},sb,'SHAP Values');
  mk('rect',{x:1442,y:1437,width:201,height:13,fill:'url(#seis)',stroke:'#333','stroke-width':0.6},sb);
  ['\u22120.04','\u22120.02','0.00','0.02','0.04'].forEach((v,i)=>mk('text',{x:1453+i*45.2,y:1462,'font-size':9,'text-anchor':'middle'},sb,v));
})();
</script>
</body></html>
